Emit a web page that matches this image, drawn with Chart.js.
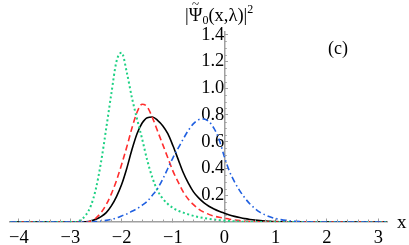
<!DOCTYPE html>
<html>
<head>
<meta charset="utf-8">
<script src="https://cdn.jsdelivr.net/npm/chart.js@4/dist/chart.umd.min.js"></script>
<style>
  html, body { margin: 0; padding: 0; background: #fff; }
  #wrap { position: relative; width: 409px; height: 245px; font-family: "Liberation Serif", "DejaVu Serif", serif; }
  #chart { position: absolute; left: 0; top: 0; }
  .lbl { position: absolute; color: #000; white-space: nowrap; line-height: 1; }
  #ylabel { left: 185px; top: 3px; font-size: 18.5px; }
  #ylabel sub { font-size: 12px; vertical-align: -3px; }
  #ylabel sup { font-size: 12px; vertical-align: 8px; }
  .psi { position: relative; display: inline-block; }
  .psi .tl { position: absolute; left: 0; right: 0; top: -9px; text-align: center; font-size: 13px; }
  #panel { left: 328px; top: 39px; font-size: 18px; }
  #xlabel { left: 397px; top: 212px; font-size: 19px; }
</style>
</head>
<body>
<div id="wrap">
  <canvas id="chart" width="409" height="245"></canvas>
  <div class="lbl" id="ylabel">|<span class="psi">&#936;<span class="tl">~</span></span><sub>0</sub>(x,&lambda;)|<sup>2</sup></div>
  <div class="lbl" id="panel">(c)</div>
  <div class="lbl" id="xlabel">x</div>
</div>
<script>
// tick labels
const xTicks = [-4, -3, -2, -1, 0, 1, 2, 3];
const yTicks = [0.2, 0.4, 0.6, 0.8, 1.0, 1.2, 1.4];

// green dotted
const greenX = [-4.17, -2.9, -2.8, -2.7, -2.6, -2.5, -2.4, -2.3, -2.2, -2.1, -2.0, -1.9, -1.8, -1.7, -1.6, -1.5, -1.4, -1.3, -1.2, -1.1, -1.0,
  -0.9, -0.8, -0.7, -0.6, -0.5, -0.4, -0.3, -0.2, -0.1, 0, 0.1, 0.2, 0.3, 0.4, 0.5, 0.6, 3.17];
const greenY = [0, 0, 0.015, 0.05, 0.12, 0.25, 0.45, 0.70, 0.96, 1.20, 1.265, 1.12, 0.93, 0.77, 0.62, 0.46, 0.33, 0.235, 0.175, 0.135, 0.105,
  0.085, 0.07, 0.057, 0.046, 0.037, 0.03, 0.024, 0.019, 0.014, 0.01, 0.007, 0.005, 0.003, 0.002, 0.001, 0, 0];

// red dashed
const redX = [-4.17, -2.7, -2.6, -2.5, -2.4, -2.3, -2.2, -2.1, -2.0, -1.9, -1.8, -1.7, -1.6, -1.5, -1.4, -1.3, -1.2, -1.1, -1.0,
  -0.9, -0.8, -0.7, -0.6, -0.5, -0.4, -0.3, -0.2, -0.1, 0, 0.1, 0.2, 0.3, 0.4, 0.5, 0.6, 0.7, 0.8, 3.17];
const redY = [0, 0, 0.005, 0.03, 0.07, 0.13, 0.21, 0.31, 0.43, 0.56, 0.70, 0.82, 0.88, 0.86, 0.78, 0.68, 0.58, 0.48, 0.38,
  0.30, 0.225, 0.17, 0.13, 0.097, 0.074, 0.057, 0.044, 0.035, 0.028, 0.021, 0.015, 0.01, 0.006, 0.004, 0.002, 0.001, 0, 0];

// black solid
const blackX = [-4.17, -2.8, -2.7, -2.6, -2.5, -2.4, -2.3, -2.2, -2.1, -2.0, -1.9, -1.8, -1.7, -1.6, -1.5, -1.4, -1.3, -1.2, -1.1, -1.0,
  -0.9, -0.8, -0.7, -0.6, -0.5, -0.4, -0.3, -0.2, -0.1, 0, 0.1, 0.2, 0.3, 0.4, 0.5, 0.6, 0.7, 0.8, 0.9, 1.0, 1.2, 1.4, 3.17];
const blackY = [0, 0, 0.002, 0.008, 0.02, 0.04, 0.07, 0.12, 0.19, 0.28, 0.40, 0.54, 0.66, 0.74, 0.78, 0.785, 0.76, 0.72, 0.66, 0.57,
  0.47, 0.37, 0.29, 0.225, 0.18, 0.145, 0.118, 0.097, 0.08, 0.066, 0.053, 0.042, 0.033, 0.025, 0.019, 0.014, 0.01, 0.007, 0.005, 0.003, 0.001, 0, 0];

// blue dash-dot
const blueX = [-4.17, -2.6, -2.5, -2.4, -2.3, -2.2, -2.1, -2.0, -1.9, -1.8, -1.7, -1.6, -1.5, -1.4, -1.3, -1.2, -1.1, -1.0,
  -0.9, -0.8, -0.7, -0.6, -0.5, -0.4, -0.3, -0.2, -0.1, 0, 0.1, 0.2, 0.3, 0.4, 0.5, 0.6, 0.7, 0.8, 0.9, 1.0, 1.1, 1.2, 1.3, 1.4, 1.5, 1.6, 1.7, 3.17];
const blueY = [0, 0, 0.003, 0.007, 0.012, 0.02, 0.03, 0.045, 0.06, 0.08, 0.10, 0.125, 0.155, 0.20, 0.25, 0.32, 0.40, 0.48,
  0.55, 0.62, 0.685, 0.735, 0.765, 0.77, 0.75, 0.70, 0.615, 0.49, 0.38, 0.30, 0.235, 0.18, 0.135, 0.10, 0.072, 0.052, 0.037, 0.026, 0.018, 0.012, 0.008, 0.005, 0.003, 0.001, 0, 0];

function pts(xs, ys) {
    return xs.map((x, i) => ({ x: x, y: ys[i] }));
}

const axisGray = "#a0a0a0";

// small in-pointing minor ticks like the original plot
const minorTicks = {
    id: "minorTicks",
    afterDraw(chart) {
        const ctx = chart.ctx;
        const xs = chart.scales.x;
        const ys = chart.scales.y;
        const x0 = xs.getPixelForValue(0);
        const y0 = ys.getPixelForValue(0);
        ctx.save();
        ctx.strokeStyle = axisGray;
        ctx.lineWidth = 1;
        ctx.beginPath();
        for (let i = -20; i <= 15; i++) {
            if (i % 5 === 0) continue;
            const px = Math.round(xs.getPixelForValue(i / 5)) + 0.5;
            ctx.moveTo(px, y0);
            ctx.lineTo(px, y0 - 2.5);
        }
        for (let j = 1; j <= 28; j++) {
            if (j % 4 === 0) continue;
            const py = Math.round(ys.getPixelForValue(j / 20)) + 0.5;
            ctx.moveTo(x0, py);
            ctx.lineTo(x0 + 2.5, py);
        }
        ctx.stroke();
        ctx.restore();
    },
};

const serif = { family: "'Liberation Serif', 'DejaVu Serif', serif", size: 18.5 };

new Chart(document.getElementById("chart"), {
    type: "line",
    data: {
        datasets: [
            { data: pts(blueX, blueY), borderColor: "#1f5fe0", borderDash: [6, 3, 1.5, 3], borderWidth: 1.6 },
            { data: pts(greenX, greenY), borderColor: "#1ed184", borderDash: [2, 2.6], borderWidth: 2 },
            { data: pts(redX, redY), borderColor: "#ff2e2e", borderDash: [6, 3.5], borderWidth: 1.6 },
            { data: pts(blackX, blackY), borderColor: "#000000", borderWidth: 1.6 },
        ],
    },
    options: {
        responsive: false,
        animation: false,
        devicePixelRatio: 1,
        layout: { padding: { left: 5, right: 22, top: 32, bottom: 23 } },
        elements: {
            point: { radius: 0 },
            line: { cubicInterpolationMode: "monotone", fill: false },
        },
        plugins: { legend: { display: false }, tooltip: { enabled: false } },
        scales: {
            x: {
                type: "linear",
                position: { y: 0 },
                min: -4.17,
                max: 3.17,
                afterBuildTicks: (s) => { s.ticks = xTicks.map((v) => ({ value: v })); },
                ticks: {
                    autoSkip: false,
                    maxRotation: 0,
                    padding: 9,
                    color: "#000",
                    font: serif,
                    callback: (v) => (v < 0 ? "\u2212" + Math.abs(v) : String(v)),
                },
                grid: { drawOnChartArea: false, tickLength: -4, tickColor: axisGray },
                border: { display: true, color: axisGray, width: 1.5 },
            },
            y: {
                type: "linear",
                position: { x: 0 },
                min: 0,
                max: 1.42,
                afterBuildTicks: (s) => { s.ticks = yTicks.map((v) => ({ value: v })); },
                ticks: {
                    autoSkip: false,
                    padding: 8,
                    color: "#000",
                    font: serif,
                    callback: (v) => v.toFixed(1),
                },
                grid: { drawOnChartArea: false, tickLength: -4, tickColor: axisGray },
                border: { display: true, color: axisGray, width: 1.5 },
            },
        },
    },
    plugins: [minorTicks],
});
</script>
</body>
</html>
